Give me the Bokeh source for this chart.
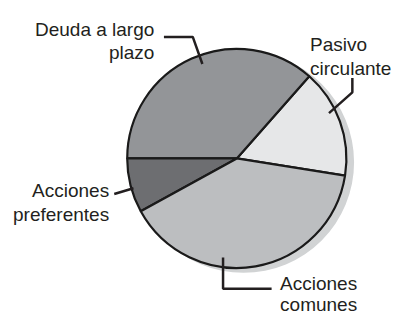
import numpy as np
from bokeh.plotting import figure
from bokeh.models import Range1d, ColumnDataSource
from bokeh.core.properties import value
from bokeh.embed import file_html
from bokeh.resources import INLINE

# ---- data ----
categories = ["Pasivo circulante", "Deuda a largo plazo", "Acciones preferentes", "Acciones comunes"]
shares = [16.0, 36.5, 8.0, 39.5]
colors = ["#e6e7e8", "#939598", "#6d6e71", "#bcbec0"]
label_lines = [["Pasivo", "circulante"], ["Deuda a largo", "plazo"],
               ["Acciones", "preferentes"], ["Acciones", "comunes"]]

# ---- layout: data units = reference-image pixels (414 x 330) ----
W, H = 398, 314
RW, RH = 414.0, 330.0
p = figure(width=W, height=H, x_range=Range1d(0, RW), y_range=Range1d(0, RH),
           output_backend="svg", toolbar_location=None,
           x_axis_location=None, y_axis_location=None, min_border=0)
p.grid.visible = False
p.outline_line_color = None


def X(px):
    return px


def Y(py):
    return RH - py


cx, cy, r = X(245.8), Y(166.0), 114.0
start = np.deg2rad(-9.0)
frac = np.array(shares) / sum(shares)
ends = start + np.cumsum(frac) * 2 * np.pi
starts = ends - frac * 2 * np.pi

# shadow
p.circle(x=[cx + 7], y=[cy - 4], radius=r + 1, fill_color="#d1d3d4", line_color=None)

src = ColumnDataSource(dict(cat=categories, start=starts, end=ends, color=colors))
p.wedge(x=cx, y=cy, radius=r, start_angle="start", end_angle="end", source=src,
        fill_color="color", line_color="#1a1a1a", line_width=2.2)

# leader lines (reference pixel coordinates of tip/elbow/end)
leaders = [
    [(341.7, 118.3), (366.0, 96.5), (366.0, 81.5)],
    [(210.0, 66.7), (200.0, 38.3), (170.0, 38.3)],
    [(138.3, 197.3), (118.3, 203.3)],
    [(231.5, 270.0), (231.5, 303.0), (282.0, 303.0)],
]
p.multi_line(xs=[[X(a) for a, b in L] for L in leaders],
             ys=[[Y(b) for a, b in L] for L in leaders],
             line_color="#231f20", line_width=2.5)

# labels: (anchor x, first baseline y, align, line step)
label_pos = [(322.0, 46.0, "left", 25), (160.0, 30.0, "right", 25),
             (113.0, 200.0, "right", 25), (371.0, 297.0, "right", 23)]
for lines, (lx, ly, al, step) in zip(label_lines, label_pos):
    p.text(x=[X(lx)] * len(lines), y=[Y(ly + step * i) for i in range(len(lines))], text=lines,
           text_align=al, text_baseline="alphabetic",
           text_font=value("Liberation Sans"), text_font_size="19px", text_color="#231f20")

open("out.html", "w").write(file_html(p, INLINE))
